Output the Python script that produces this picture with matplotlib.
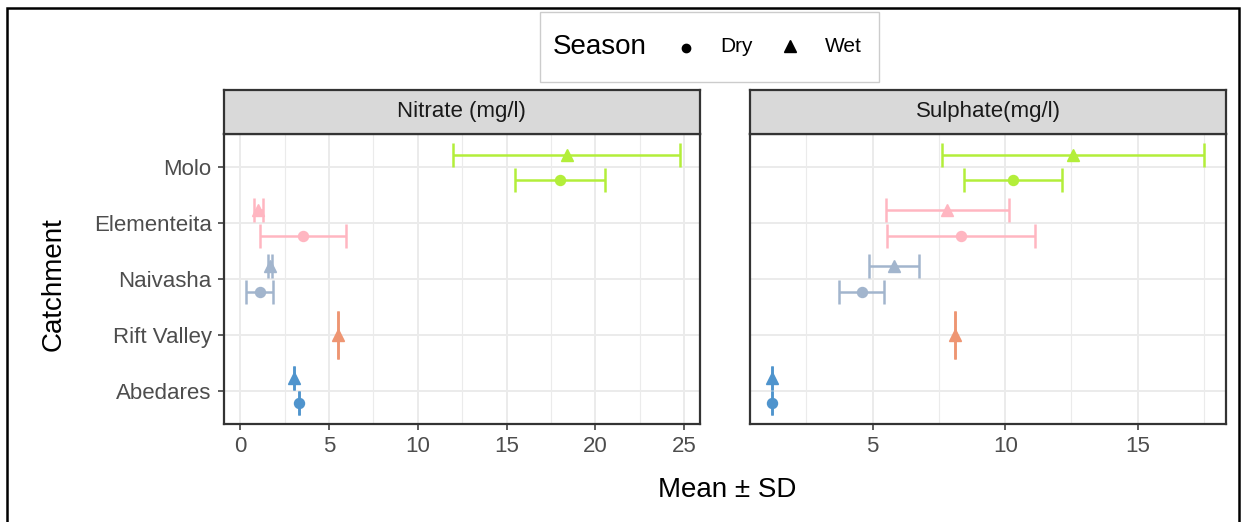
import numpy as np
import matplotlib
matplotlib.use("Agg")
import matplotlib.pyplot as plt
from matplotlib.patches import Rectangle
from matplotlib.lines import Line2D
from matplotlib.ticker import MultipleLocator

plt.rcParams["font.family"] = ["Liberation Sans", "DejaVu Sans"]

# ---- data -------------------------------------------------------------
catchments = ["Abedares", "Rift Valley", "Naivasha", "Elementeita", "Molo"]
catchment_colors = ["#4F94CD", "#EE9572", "#A2B5CD", "#FFB6C1", "#B3EE3A"]

nitrate_dry_mean = [3.31, np.nan, 1.08, 3.53, 18.02]
nitrate_dry_sd = [0.0, np.nan, 0.78, 2.42, 2.52]
nitrate_wet_mean = [3.05, 5.51, 1.67, 1.01, 18.38]
nitrate_wet_sd = [0.0, 0.0, 0.14, 0.25, 6.39]

sulphate_dry_mean = [1.2, np.nan, 4.59, 8.34, 10.29]
sulphate_dry_sd = [0.0, np.nan, 0.85, 2.80, 1.84]
sulphate_wet_mean = [1.2, 8.10, 5.80, 7.81, 12.55]
sulphate_wet_sd = [0.0, 0.0, 0.94, 2.32, 4.94]

panel_titles = ["Nitrate (mg/l)", "Sulphate(mg/l)"]
x_ticks = [[0, 5, 10, 15, 20, 25], [5, 10, 15]]
x_limits = [(-0.95, 25.9), (0.37, 18.33)]

# ---- layout helpers ----------------------------------------------------
W, H = 1241, 522
fig = plt.figure(figsize=(W / 100, H / 100), dpi=100)


def fx(px):
    return px / W


def fy(py):
    return 1 - py / H


panel_top, panel_bottom, strip_top = 134, 424, 90
panels_px = [(223.5, 700), (750, 1226)]

dark = "#333333"
grid_col = "#EBEBEB"
tick_col = "#4D4D4D"

datasets = [
    (nitrate_dry_mean, nitrate_dry_sd, nitrate_wet_mean, nitrate_wet_sd),
    (sulphate_dry_mean, sulphate_dry_sd, sulphate_wet_mean, sulphate_wet_sd),
]

dodge = 0.23
lw_bar = 1.8
for i, ((x0, x1), title, ticks, xlim, data) in enumerate(
        zip(panels_px, panel_titles, x_ticks, x_limits, datasets)):
    ax = fig.add_axes([fx(x0), fy(panel_bottom), fx(x1 - x0),
                       (panel_bottom - panel_top) / H])
    ax.set_xlim(*xlim)
    ax.set_ylim(0.4, 5.6)
    ax.set_xticks(ticks)
    ax.xaxis.set_minor_locator(MultipleLocator(2.5))
    ax.set_yticks(range(1, len(catchments) + 1))
    ax.set_axisbelow(True)
    ax.grid(which="major", color=grid_col, lw=1.4)
    ax.grid(which="minor", axis="x", color=grid_col, lw=0.8)
    ax.tick_params(which="minor", length=0)
    ax.tick_params(which="major", length=4.5, width=1.1, color=dark,
                   labelsize=16, labelcolor=tick_col, pad=4)
    if i == 0:
        ax.set_yticklabels(catchments)
    else:
        ax.tick_params(axis="y", left=False, labelleft=False)
    for s in ax.spines.values():
        s.set_color(dark)
        s.set_linewidth(1.6)

    dry_m, dry_s, wet_m, wet_s = data
    for k, name in enumerate(catchments):
        ypos = k + 1
        present = [not np.isnan(dry_m[k]), not np.isnan(wet_m[k])]
        both = all(present)
        off = dodge if both else 0.0
        cap = 8.6 if both else 17.5
        col = catchment_colors[k]
        if present[1]:
            ax.errorbar(wet_m[k], ypos + off, xerr=wet_s[k], fmt="^",
                        color=col, ms=8.5, capsize=cap, capthick=lw_bar,
                        elinewidth=lw_bar, mec=col, zorder=3)
        if present[0]:
            ax.errorbar(dry_m[k], ypos - off, xerr=dry_s[k], fmt="o",
                        color=col, ms=7.2, capsize=cap, capthick=lw_bar,
                        elinewidth=lw_bar, mec=col, zorder=3)

    # facet strip
    sax = fig.add_axes([fx(x0), fy(panel_top), fx(x1 - x0),
                        (panel_top - strip_top) / H])
    sax.set_facecolor("#D9D9D9")
    sax.set_xticks([])
    sax.set_yticks([])
    for s in sax.spines.values():
        s.set_color(dark)
        s.set_linewidth(1.6)
    sax.text(0.5, 0.5, title, ha="center", va="center", fontsize=16,
             color="#1A1A1A", transform=sax.transAxes)

# axis titles
fig.text(fx(727), fy(490), "Mean ± SD", ha="center", va="center", fontsize=20)
fig.text(fx(54), fy(284), "Catchment", ha="center", va="center",
         fontsize=20, rotation=90)

# legend
fig.add_artist(Rectangle((fx(540), fy(82)), fx(339), 70 / H,
                         transform=fig.transFigure, fill=False,
                         ec="#CCCCCC", lw=1))
fig.text(fx(553), fy(47), "Season", ha="left", va="center", fontsize=20)
fig.add_artist(Line2D([fx(686)], [fy(48)], marker="o", color="black",
                      ms=6, transform=fig.transFigure, ls="none"))
fig.text(fx(720), fy(46), "Dry", ha="left", va="center", fontsize=15)
fig.add_artist(Line2D([fx(790)], [fy(46)], marker="^", color="black",
                      ms=8, transform=fig.transFigure, ls="none"))
fig.text(fx(825), fy(46), "Wet", ha="left", va="center", fontsize=15)

# outer frame
fig.add_artist(Rectangle((fx(7), -0.05), fx(1239 - 7), fy(8) + 0.05,
                         transform=fig.transFigure, fill=False,
                         ec="black", lw=1.8))

fig.savefig("out.png", dpi=100, facecolor="white")
